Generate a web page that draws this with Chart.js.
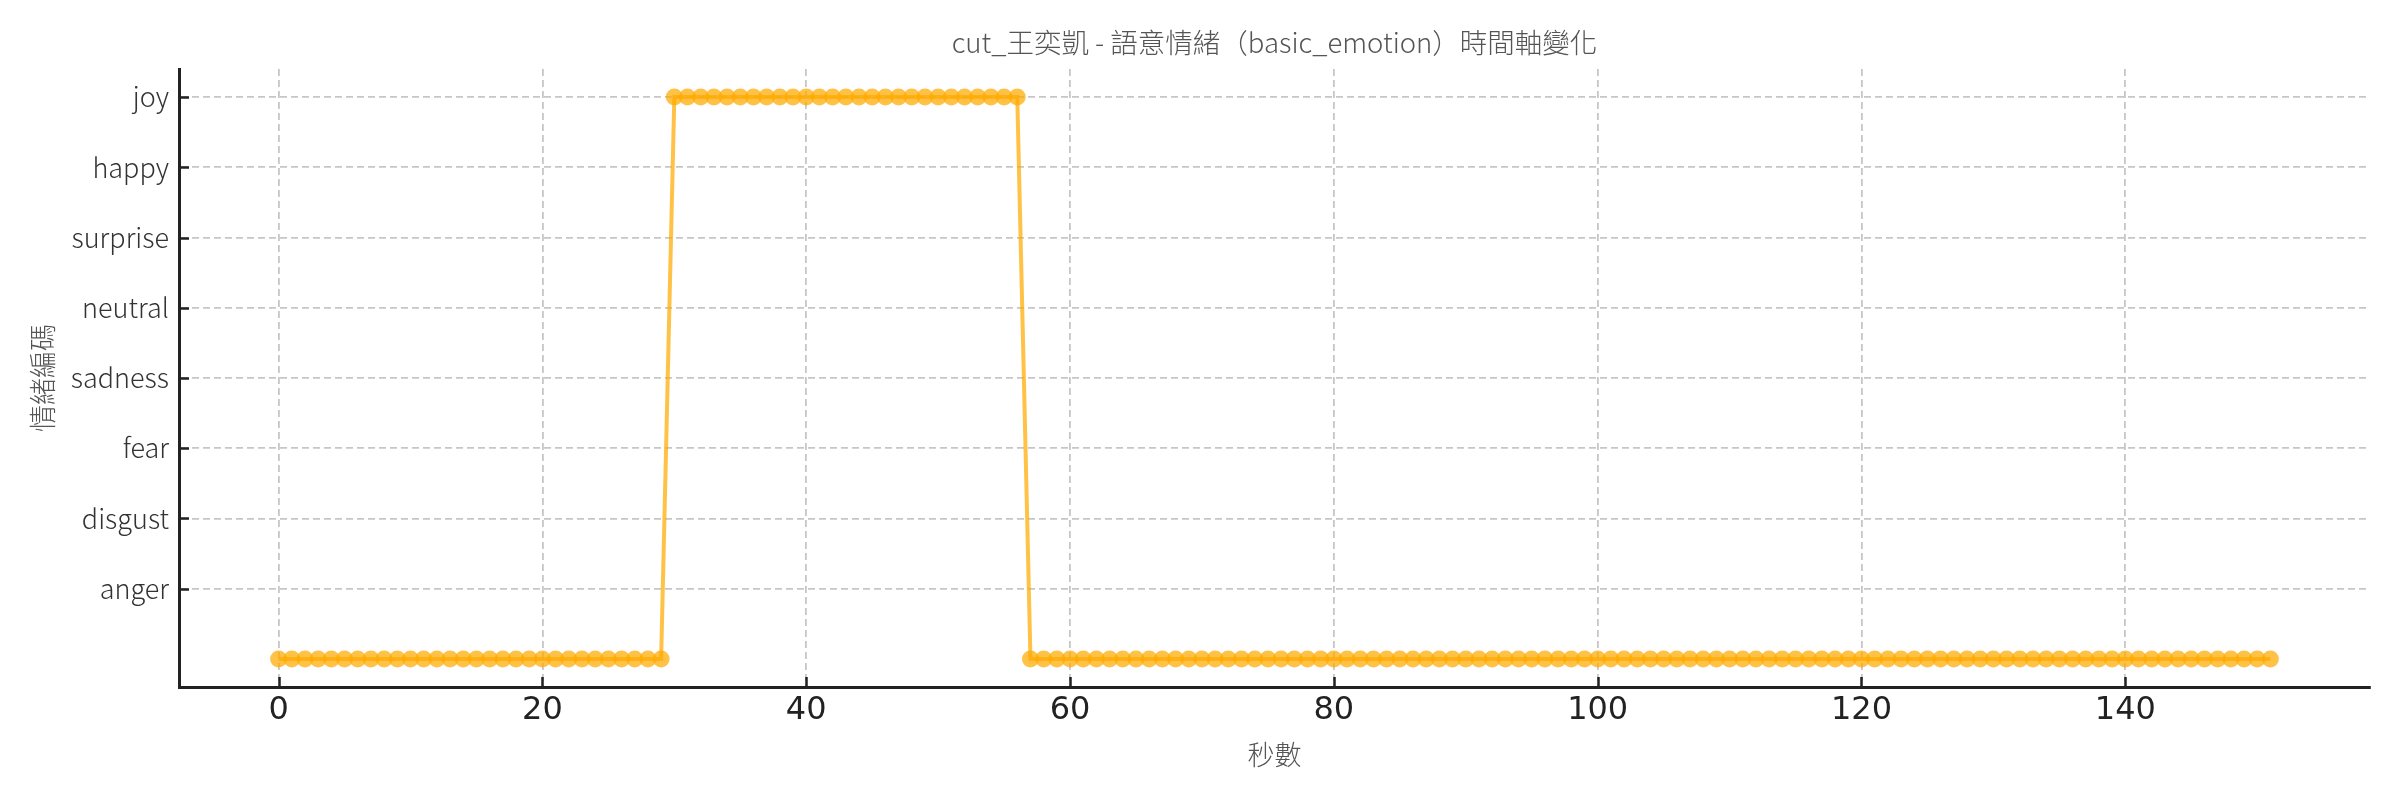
<!DOCTYPE html>
<html lang="zh-Hant">
<head>
<meta charset="utf-8">
<title>cut_王奕凱 - 語意情緒（basic_emotion）時間軸變化</title>
<script src="https://cdn.jsdelivr.net/npm/chart.js@4"></script>
<style>
  html, body { margin: 0; padding: 0; background: #fff; }
  #wrap { width: 2400px; height: 800px; }
</style>
</head>
<body>
<div id="wrap"><canvas id="emotionChart" width="2400" height="800"></canvas></div>
<script>
// ── Data ──────────────────────────────────────────────────────
const chartTitle = 'cut_王奕凱 - 語意情緒（basic_emotion）時間軸變化';
const xTitle = '秒數';
const yTitle = '情緒編碼';

// emotion labels for codes 1..8 (code 0 has no label)
const emotionLabels = ['anger', 'disgust', 'fear', 'sadness', 'neutral', 'surprise', 'happy', 'joy'];
const emotionCodes = [1, 2, 3, 4, 5, 6, 7, 8];
const xTicks = [0, 20, 40, 60, 80, 100, 120, 140];

const seconds = [
  0, 1, 2, 3, 4, 5, 6, 7, 8, 9,
  10, 11, 12, 13, 14, 15, 16, 17, 18, 19,
  20, 21, 22, 23, 24, 25, 26, 27, 28, 29,
  30, 31, 32, 33, 34, 35, 36, 37, 38, 39,
  40, 41, 42, 43, 44, 45, 46, 47, 48, 49,
  50, 51, 52, 53, 54, 55, 56, 57, 58, 59,
  60, 61, 62, 63, 64, 65, 66, 67, 68, 69,
  70, 71, 72, 73, 74, 75, 76, 77, 78, 79,
  80, 81, 82, 83, 84, 85, 86, 87, 88, 89,
  90, 91, 92, 93, 94, 95, 96, 97, 98, 99,
  100, 101, 102, 103, 104, 105, 106, 107, 108, 109,
  110, 111, 112, 113, 114, 115, 116, 117, 118, 119,
  120, 121, 122, 123, 124, 125, 126, 127, 128, 129,
  130, 131, 132, 133, 134, 135, 136, 137, 138, 139,
  140, 141, 142, 143, 144, 145, 146, 147, 148, 149,
  150, 151
];

const codes = [
  0, 0, 0, 0, 0, 0, 0, 0, 0, 0,
  0, 0, 0, 0, 0, 0, 0, 0, 0, 0,
  0, 0, 0, 0, 0, 0, 0, 0, 0, 0,
  8, 8, 8, 8, 8, 8, 8, 8, 8, 8,
  8, 8, 8, 8, 8, 8, 8, 8, 8, 8,
  8, 8, 8, 8, 8, 8, 8, 0, 0, 0,
  0, 0, 0, 0, 0, 0, 0, 0, 0, 0,
  0, 0, 0, 0, 0, 0, 0, 0, 0, 0,
  0, 0, 0, 0, 0, 0, 0, 0, 0, 0,
  0, 0, 0, 0, 0, 0, 0, 0, 0, 0,
  0, 0, 0, 0, 0, 0, 0, 0, 0, 0,
  0, 0, 0, 0, 0, 0, 0, 0, 0, 0,
  0, 0, 0, 0, 0, 0, 0, 0, 0, 0,
  0, 0, 0, 0, 0, 0, 0, 0, 0, 0,
  0, 0, 0, 0, 0, 0, 0, 0, 0, 0,
  0, 0
];

// ── Style ─────────────────────────────────────────────────────
const CJK = '"Noto Sans CJK TC", "Noto Sans CJK SC", "Noto Sans", sans-serif';
const orange = 'rgba(255,170,0,0.72)';
const axisColor = '#222';
const gridColor = '#c6c6c6';

// inward tick marks (matplotlib direction='in')
const inwardTicks = {
  id: 'inwardTicks',
  afterDraw(chart) {
    const { ctx, chartArea, scales } = chart;
    ctx.save();
    ctx.strokeStyle = axisColor;
    ctx.lineWidth = 2.5;
    ctx.beginPath();
    scales.x.ticks.forEach(t => {
      const px = Math.round(scales.x.getPixelForValue(t.value)) + 0.5;
      ctx.moveTo(px, chartArea.bottom);
      ctx.lineTo(px, chartArea.bottom - 10);
    });
    scales.y.ticks.forEach(t => {
      const py = Math.round(scales.y.getPixelForValue(t.value)) + 0.5;
      ctx.moveTo(chartArea.left, py);
      ctx.lineTo(chartArea.left + 10, py);
    });
    ctx.stroke();
    ctx.restore();
  }
};

// ── Chart ─────────────────────────────────────────────────────
const ctx = document.getElementById('emotionChart').getContext('2d');
new Chart(ctx, {
  type: 'line',
  data: {
    datasets: [{
      label: 'basic_emotion',
      data: seconds.map((s, i) => ({ x: s, y: codes[i] })),
      borderColor: orange,
      borderWidth: 4,
      backgroundColor: orange,
      pointRadius: 8.5,
      pointBorderWidth: 0,
      pointBackgroundColor: orange,
      tension: 0,
      fill: false
    }]
  },
  options: {
    responsive: false,
    animation: false,
    devicePixelRatio: 1,
    layout: { padding: { left: 0, right: 30, top: 0, bottom: 0 } },
    plugins: {
      legend: { display: false },
      tooltip: { enabled: false },
      title: {
        display: true,
        text: chartTitle,
        fullSize: false,
        color: '#555',
        font: { family: CJK, size: 27.5, weight: 300 },
        padding: { top: 26, bottom: 10 }
      }
    },
    scales: {
      x: {
        type: 'linear',
        min: -7.55,
        max: 158.55,
        afterBuildTicks: s => { s.ticks = xTicks.map(v => ({ value: v })); },
        afterFit: s => { s.height = 113; },
        ticks: {
          color: axisColor,
          padding: 4,
          font: { family: '"DejaVu Sans", sans-serif', size: 32 },
          maxRotation: 0,
          callback: v => String(v)
        },
        grid: { color: gridColor, lineWidth: 1.8, drawTicks: false },
        border: { display: true, color: axisColor, width: 3, dash: [7, 4] },
        title: {
          display: true,
          text: xTitle,
          color: '#555',
          font: { family: CJK, size: 27, weight: 300 },
          padding: { top: 0, bottom: 29 }
        }
      },
      y: {
        type: 'linear',
        min: -0.4,
        max: 8.4,
        afterBuildTicks: s => { s.ticks = emotionCodes.map(v => ({ value: v })); },
        afterFit: s => { s.width = 179; },
        ticks: {
          color: '#333',
          padding: 10,
          font: { family: CJK, size: 27, weight: 300 },
          callback: v => emotionLabels[emotionCodes.indexOf(v)] ?? ''
        },
        grid: { color: gridColor, lineWidth: 1.8, drawTicks: false },
        border: { display: true, color: axisColor, width: 3, dash: [7, 4] },
        title: {
          display: true,
          text: yTitle,
          color: '#555',
          font: { family: CJK, size: 27, weight: 300 },
          padding: { top: 27, bottom: 0 }
        }
      }
    }
  },
  plugins: [inwardTicks]
});
</script>
</body>
</html>
